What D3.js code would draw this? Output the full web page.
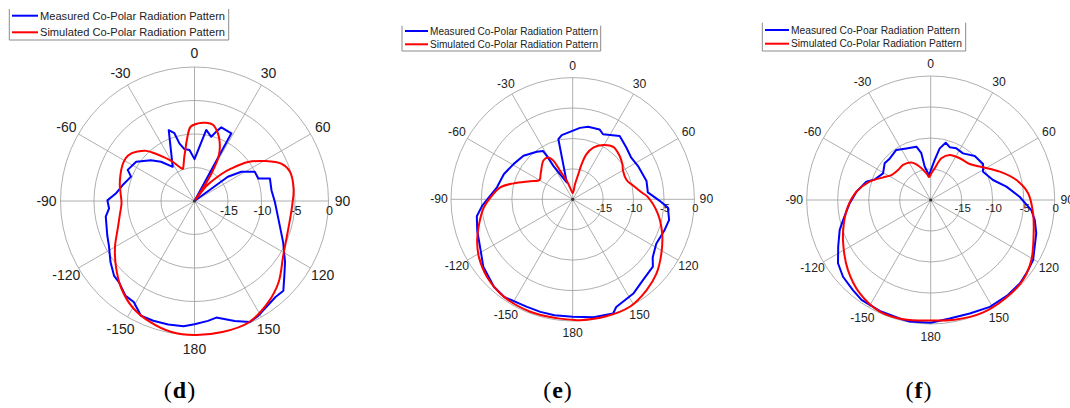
<!DOCTYPE html>
<html>
<head>
<meta charset="utf-8">
<script src="https://cdn.jsdelivr.net/npm/d3@7"></script>
<style>
  body { margin: 0; background: #fff; }
  svg { display: block; }
  text { font-family: "Liberation Sans", Arial, sans-serif; fill: #222; }
</style>
</head>
<body>
<svg id="chart" width="1070" height="408"></svg>
<script>
// Polar grid ticks (angle clockwise from top, radius in dB)
var thetaTicks = [0, 30, 60, 90, 120, 150, 180, -150, -120, -90, -60, -30];
var rTicks = [-15, -10, -5, 0];
var rMin = -20, rMax = 0;

var legendMeasured = ["Measured Co-Polar Radiation Pattern", "Measured Co-Polar Radiation Pattern", "Measured Co-Poar Radiation Pattern"];
var legendSimulated = "Simulated Co-Polar Radiation Pattern";
var captions = ["d", "e", "f"];

// [theta (deg), dB]
var measuredD = [[-180,-1.6],[-175,-1.25],[-168,-1.15],[-161,-1.1],[-155,-1.1],[-149,-2.4],[-144,-2.5],[-137,-3.45],[-133,-3.6],[-126,-4.5],[-117.5,-5.6],[-111.6,-6.0],[-100,-6.55],[-95,-7.2],[-89.6,-7.0],[-84.6,-8.2],[-77.7,-9.0],[-69,-9.85],[-65,-9.0],[-56,-9.5],[-47,-11.1],[-40.5,-12.3],[-32.5,-13.95],[-20,-8.75],[-16.5,-9.45],[-14.7,-11.1],[-11,-12.1],[-5.6,-12.35],[0,-13.75],[5.3,-11.85],[9.4,-9.25],[14.6,-10.1],[17.4,-9.15],[20,-8.3],[28.6,-8.5],[36,-20],[54,-13.85],[58,-11.75],[64,-10],[70.6,-9.9],[73.4,-8.25],[82,-8.4],[90.7,-8.0],[102,-7.2],[115,-5.4],[124,-3.7],[129.8,-2.55],[135.3,-1.15],[140,-1.25],[151,-0.4],[155.4,-0.15],[161.5,-1.1],[169.4,-2.3],[173.6,-2.0],[180,-1.6]];
var simulatedD = [[-180,0],[-170,-0.15],[-160,-0.75],[-150,-1.6],[-140,-3.0],[-130,-4.7],[-120,-6.3],[-110,-7.8],[-100,-8.7],[-92,-9.1],[-85,-8.95],[-78,-8.6],[-71,-8.3],[-64,-8.0],[-58,-7.9],[-53,-8.2],[-49,-8.75],[-44,-9.6],[-40,-10.7],[-35,-12.0],[-29,-13.3],[-24,-14.4],[-20,-14.9],[-17,-14.4],[-13.5,-13.4],[-10.8,-12.5],[-6.7,-10.6],[-3,-8.9],[2.5,-8.4],[8.5,-8.2],[13.6,-8.3],[19,-9.3],[23,-10.4],[26.5,-11.6],[29,-12.8],[31.5,-15],[33.5,-18],[35,-20],[38,-17.3],[41,-16.2],[45,-14.3],[48.6,-12.65],[54,-10.1],[60.5,-7.9],[67,-5.85],[73,-5.1],[83,-5.1],[92.5,-5.4],[106.5,-5.4],[121.6,-4.45],[134,-2.55],[144,-1.3],[156,-0.15],[168,0]];

var measuredE = [[-180,-0.7],[-171,-0.7],[-164,-0.75],[-157,-0.8],[-145,-0.4],[-138,-0.65],[-127,-1.6],[-119,-2.7],[-108,-3.5],[-100,-4.0],[-94,-5.1],[-81,-7.4],[-70,-7.95],[-59,-8.7],[-48.5,-9.2],[-37,-10.2],[-31.5,-10.7],[-30.8,-11.7],[-30,-13.7],[-26.6,-15.4],[-19.4,-17.05],[-13.4,-9.85],[-9.7,-9.3],[5.8,-8.2],[12,-7.8],[21,-7.7],[25,-8.2],[36.6,-7.05],[46,-7.75],[54.6,-8.2],[63,-7.95],[76,-7.5],[84.7,-7.6],[91,-5.7],[95,-4.3],[102,-3.8],[109,-4.1],[118,-4.45],[126,-3.75],[130,-2.8],[139,-2.4],[147,-1.6],[158,-0.9],[160.5,-0.1],[170,-0.3],[180,-0.7]];
var simulatedE = [[-180,-0.2],[-172.4,-0.3],[-159.3,-0.25],[-144.7,-0.4],[-132.2,-1.0],[-121.6,-1.9],[-113.3,-2.9],[-104.7,-4.1],[-95.1,-5.35],[-88.6,-6.5],[-80.6,-7.95],[-74.9,-9.95],[-67,-12.4],[-59.9,-13.7],[-52,-13.3],[-47.8,-13.0],[-36.7,-12.0],[-30,-12.05],[-26.6,-12.9],[-23.8,-14.9],[-17.8,-16.8],[-11,-18.3],[0,-19],[8.7,-17.5],[12.6,-15.75],[14.3,-14.05],[17,-12.25],[21.7,-10.85],[29.3,-9.75],[37.7,-9.1],[47.3,-9.5],[54.8,-10.0],[60.5,-10.5],[70.3,-10.6],[77.3,-9.8],[84.2,-8.65],[88.5,-7.6],[99.7,-5.8],[111,-4.25],[121.6,-2.9],[131.6,-1.6],[141,-0.75],[152,0],[164,0],[176.5,-0.1]];

var measuredF = [[-180,-0.2],[-170.2,-0.1],[-165.3,-0.25],[-155.3,-0.3],[-145.3,-0.4],[-139.2,-0.8],[-131.2,-1.2],[-124.3,-1.9],[-116.7,-3.3],[-108.2,-4.55],[-102.9,-5.5],[-92.4,-6.9],[-83.6,-7.95],[-74.1,-9.2],[-69.7,-10.4],[-60.8,-11.2],[-51.4,-10.5],[-44.5,-10.6],[-34.5,-10.2],[-25.2,-10.8],[-15,-11.1],[-11.3,-12.3],[-10.2,-14.5],[-4,-16],[5.7,-13.5],[9.9,-11.55],[14.7,-10.45],[19.8,-10.95],[26.4,-10.7],[34.7,-10.85],[45,-9.95],[55.5,-9.75],[61.6,-10.4],[72.2,-9.45],[80,-7.6],[87.9,-5.65],[95.7,-3.7],[100.9,-2.9],[107.5,-2.15],[120.4,-0.85],[127.5,-0.55],[133,-0.3],[140.9,-0.25],[151,-0.3],[161,-0.65],[170.9,-0.65],[180,-0.2]];
var simulatedF = [[-180,-0.55],[-167,-0.25],[-155.5,-0.2],[-142.7,-1.1],[-130.3,-2.5],[-116.3,-4.25],[-105,-5.5],[-94.6,-6.6],[-83.6,-7.95],[-73.3,-9.7],[-64.6,-11.5],[-57.6,-12.5],[-47.4,-12.85],[-38.3,-12.8],[-27.4,-13.2],[-18.3,-14.35],[-8.1,-15.8],[-4,-16.3],[1.4,-15.7],[7.2,-14.85],[14.4,-13.05],[22.9,-12.1],[34.8,-11.8],[47.3,-11.45],[58,-10.05],[67.7,-7.95],[76.9,-5.8],[86,-4.25],[97.4,-3.35],[107.9,-2.55],[120.8,-1.1],[130.9,-0.3],[142.9,-0.1],[155.2,0],[167.9,-0.3]];

var measuredSeries = [measuredD, measuredE, measuredF];
var simulatedSeries = [simulatedD, simulatedE, simulatedF];

// layout of the three panels
var panels = [
  {cx: 194.5, cy: 201, R: 134, labelOff: 14, angFont: 14, rFont: 12.5, rDy: 10,
   legend: {x0: 9.3, x1: 228.7, y0: 9, y1: 40, ly: [15.7, 32.3], lx: [12, 38], tx: 40, tw: 185, font: 11},
   capX: 180},
  {cx: 572.7, cy: 199.3, R: 121.7, labelOff: 12, angFont: 12.2, rFont: 11, rDy: 8.7,
   legend: {x0: 402, x1: 600.7, y0: 25.7, y1: 51, ly: [31, 44.3], lx: [405, 428], tx: 430, tw: 168, font: 10},
   capX: 558},
  {cx: 930.7, cy: 200, R: 124, labelOff: 12.5, angFont: 12.2, rFont: 11.5, rDy: 8.3,
   legend: {x0: 762.3, x1: 965.7, y0: 22.7, y1: 51, ly: [30, 43.7], lx: [765, 789], tx: 791, tw: [169, 171], font: 10},
   capX: 919}
];

var svg = d3.select("#chart");
var rad = Math.PI / 180;

panels.forEach(function(p, i) {
  var r = d3.scaleLinear().domain([rMin, rMax]).range([0, p.R]).clamp(true);
  var g = svg.append("g").attr("transform", "translate(" + p.cx + "," + p.cy + ")");

  // grid circles and spokes
  g.selectAll("circle.ring").data(rTicks).enter().append("circle")
    .attr("class", "ring")
    .attr("r", function(d) { return r(d); })
    .attr("fill", "none").attr("stroke", "#9a9a9a").attr("stroke-width", 0.8);

  g.selectAll("line.spoke").data(d3.range(0, 360, 30)).enter().append("line")
    .attr("class", "spoke")
    .attr("x1", 0).attr("y1", 0)
    .attr("x2", function(d) { return p.R * Math.sin(d * rad); })
    .attr("y2", function(d) { return -p.R * Math.cos(d * rad); })
    .attr("stroke", "#9a9a9a").attr("stroke-width", 0.8);

  // angle labels
  g.selectAll("text.theta").data(thetaTicks).enter().append("text")
    .attr("class", "theta")
    .attr("x", function(d) { return (p.R + p.labelOff) * Math.sin(d * rad); })
    .attr("y", function(d) { return -(p.R + p.labelOff) * Math.cos(d * rad); })
    .attr("text-anchor", "middle")
    .attr("dominant-baseline", "central")
    .style("font-size", p.angFont + "px")
    .text(function(d) { return d; });

  // radius labels
  g.selectAll("text.rtick").data(rTicks).enter().append("text")
    .attr("class", "rtick")
    .attr("x", function(d) { return r(d) + 1; })
    .attr("y", p.rDy)
    .attr("text-anchor", "middle")
    .attr("dominant-baseline", "central")
    .style("font-size", p.rFont + "px")
    .text(function(d) { return d; });

  var line = d3.lineRadial()
    .angle(function(d) { return d[0] * rad; })
    .radius(function(d) { return r(d[1]); });

  g.append("path")
    .datum(measuredSeries[i])
    .attr("d", line.curve(d3.curveLinear))
    .attr("fill", "none").attr("stroke", "#0000ff").attr("stroke-width", 2)
    .attr("stroke-linejoin", "round");

  g.append("path")
    .datum(simulatedSeries[i])
    .attr("d", line.curve(d3.curveCatmullRomClosed.alpha(0.5)))
    .attr("fill", "none").attr("stroke", "#ff0000").attr("stroke-width", 2)
    .attr("stroke-linejoin", "round");

  g.append("circle").attr("r", 1.6).attr("fill", "#333");

  // legend (box top edge is cut off in the source)
  var L = p.legend;
  svg.append("path")
    .attr("d", "M" + L.x0 + "," + L.y0 + "V" + L.y1 + "H" + L.x1 + "V" + L.y0)
    .attr("fill", "none").attr("stroke", "#8a8a8a").attr("stroke-width", 1);

  var labels = [legendMeasured[i], legendSimulated];
  var colors = ["#0000ff", "#ff0000"];
  labels.forEach(function(t, k) {
    svg.append("line")
      .attr("x1", L.lx[0]).attr("x2", L.lx[1])
      .attr("y1", L.ly[k]).attr("y2", L.ly[k])
      .attr("stroke", colors[k]).attr("stroke-width", 2);
    svg.append("text")
      .attr("x", L.tx).attr("y", L.ly[k])
      .attr("dominant-baseline", "central")
      .attr("textLength", Array.isArray(L.tw) ? L.tw[k] : L.tw)
      .attr("lengthAdjust", "spacingAndGlyphs")
      .style("font-size", L.font + "px")
      .text(t);
  });

  // caption
  var cap = svg.append("text")
    .attr("x", p.capX).attr("y", 398)
    .attr("text-anchor", "middle")
    .style("font-family", "'Liberation Serif', 'DejaVu Serif', serif")
    .style("font-size", "24px")
    .style("letter-spacing", "1px")
    .style("fill", "#000");
  cap.append("tspan").text("(");
  cap.append("tspan").style("font-weight", "bold").text(captions[i]);
  cap.append("tspan").text(")");
});
</script>
</body>
</html>
